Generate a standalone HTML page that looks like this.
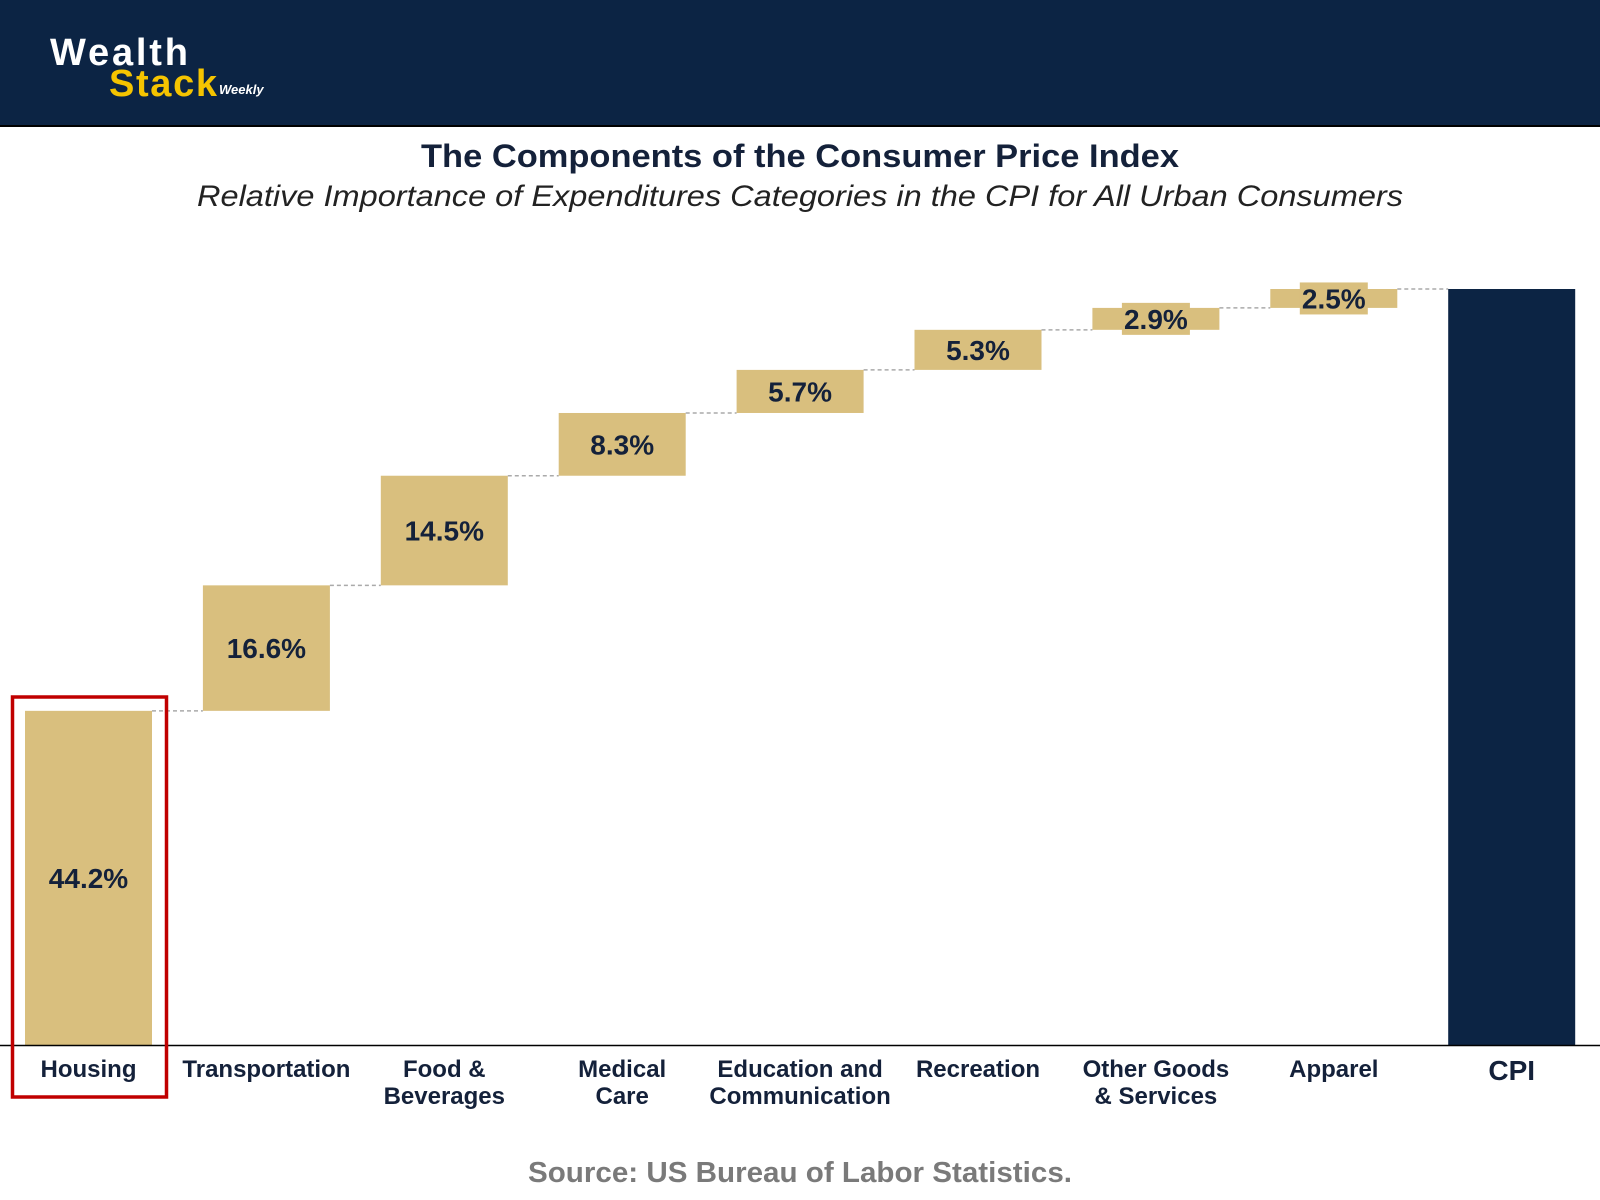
<!DOCTYPE html>
<html><head><meta charset="utf-8">
<style>
html,body{margin:0;padding:0;background:#fff;}
body{width:1600px;height:1200px;overflow:hidden;position:relative;font-family:"Liberation Sans",sans-serif;}
#hdr{position:absolute;left:0;top:0;width:1600px;height:125px;background:#0c2444;border-bottom:2px solid #000;}
svg{position:absolute;left:0;top:0;}
</style></head><body>
<div id="hdr"></div>
<svg id="chart" width="1600" height="1200">
  <text x="50" y="65" font-family="Liberation Sans" font-weight="bold" font-size="38" fill="#fff" textLength="138">Wealth</text>
  <text x="109" y="96" font-family="Liberation Sans" font-weight="bold" font-size="38" fill="#f5c400" textLength="108">Stack</text>
  <text x="219" y="94" font-family="Liberation Sans" font-weight="bold" font-style="italic" font-size="13" fill="#fff">Weekly</text>
  <text x="800" y="167" text-anchor="middle" font-family="Liberation Sans" font-weight="bold" font-size="32" fill="#14213a" textLength="758" lengthAdjust="spacingAndGlyphs">The Components of the Consumer Price Index</text>
  <text x="800" y="206" text-anchor="middle" font-family="Liberation Sans" font-style="italic" font-size="30" fill="#222" textLength="1206" lengthAdjust="spacingAndGlyphs">Relative Importance of Expenditures Categories in the CPI for All Urban Consumers</text>
  <text x="800" y="1182" text-anchor="middle" font-family="Liberation Sans" font-weight="bold" font-size="29" fill="#7a7a7a" textLength="544" lengthAdjust="spacingAndGlyphs">Source: US Bureau of Labor Statistics.</text>
  <g id="marks"></g>
</svg>
<script>
const categories = [["Housing"],["Transportation"],["Food &","Beverages"],["Medical","Care"],["Education and","Communication"],["Recreation"],["Other Goods","& Services"],["Apparel"]];
const values = [44.2,16.6,14.5,8.3,5.7,5.3,2.9,2.5];
const labels = ["44.2%","16.6%","14.5%","8.3%","5.7%","5.3%","2.9%","2.5%"];
const totalLabel = "CPI";
const totalValue = 100;

const NS="http://www.w3.org/2000/svg";
const g=document.getElementById('marks');
const baseY=1045, pxPer=7.56, x0=88.5, step=177.9, bw=127;
const y=v=>baseY-v*pxPer;
const cx=i=>x0+i*step;
function mk(tag,attrs){const e=document.createElementNS(NS,tag);for(const k in attrs)e.setAttribute(k,attrs[k]);g.appendChild(e);return e;}

let cum=0;
values.forEach((v,i)=>{
  const top=y(cum+v), bot=y(cum);
  const r=mk('rect',{x:cx(i)-bw/2,y:top,width:bw,height:bot-top,fill:'#d9bf7e'});
  
  
  const mid=(top+bot)/2;
  if(bot-top<36){
    const bg=mk('rect',{x:cx(i)-34,y:mid-16,width:68,height:32,fill:'#d9bf7e'});
    
    
  }
  const t=mk('text',{x:cx(i),y:mid+10,'text-anchor':'middle','font-family':'Liberation Sans','font-weight':'bold','font-size':28,fill:'#14213a'});
  t.textContent=labels[i];
  
  
  cum+=v;
  const nx = cx(i+1)-bw/2;
  const c=mk('line',{x1:cx(i)+bw/2,y1:y(cum),x2:nx,y2:y(cum),stroke:'#aaa','stroke-width':1.5,'stroke-dasharray':'4,3'});
  
  
  categories[i].forEach((ln,j)=>{
    const l=mk('text',{x:cx(i),y:1077+j*27,'text-anchor':'middle','font-family':'Liberation Sans','font-weight':'bold','font-size':24,fill:'#14213a'});
    l.textContent=ln;
    
    
  });
});
const ti=values.length;
const tb=mk('rect',{x:cx(ti)-bw/2,y:y(totalValue),width:bw,height:baseY-y(totalValue),fill:'#0c2444'});


const tl=mk('text',{x:cx(ti),y:1080,'text-anchor':'middle','font-family':'Liberation Sans','font-weight':'bold','font-size':28,fill:'#14213a'});
tl.textContent=totalLabel;


const ax=mk('line',{x1:0,y1:baseY+0.5,x2:1600,y2:baseY+0.5,stroke:'#000','stroke-width':1.5});


const hb=mk('rect',{x:12.5,y:697,width:154,height:400,fill:'none',stroke:'#c00000','stroke-width':3.5});


</script>
</body></html>
